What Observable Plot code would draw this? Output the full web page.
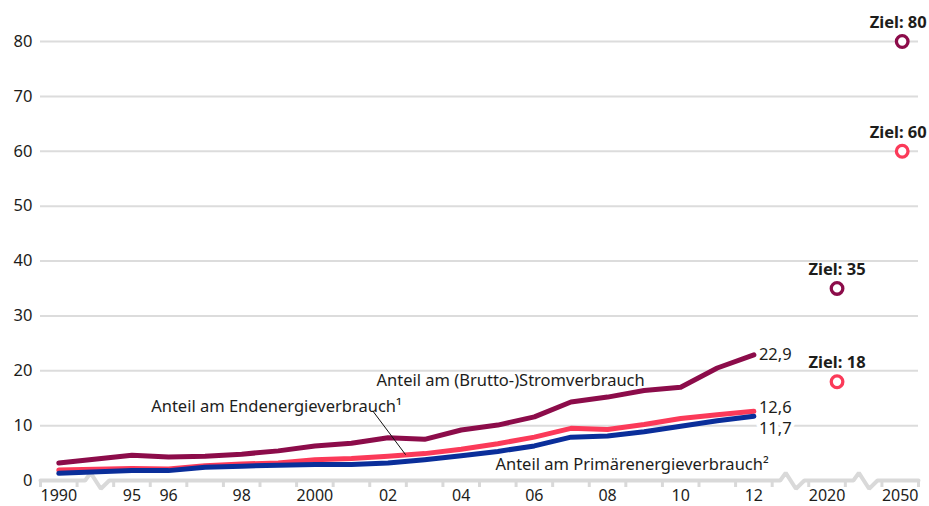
<!DOCTYPE html>
<html><head><meta charset="utf-8">
<script src="https://cdn.jsdelivr.net/npm/d3@7"></script>
<script src="https://cdn.jsdelivr.net/npm/@observablehq/plot@0.6"></script>
<style>
body{margin:0;background:#fff;}
#chart svg{display:block;overflow:visible;}
</style>
</head><body><div id="chart"></div>
<script>
// x slots (bands) in order, "" marks an axis break
const slots = ["1990","","1995","1996","1997","1998","1999","2000","2001","2002","2003","2004","2005","2006","2007","2008","2009","2010","2011","2012","","2020","","2050"];
const tickLabels = ["1990","","95","96","","98","","2000","","02","","04","","06","","08","","10","","12","","2020","","2050"];

const years = [1990,1995,1996,1997,1998,1999,2000,2001,2002,2003,2004,2005,2006,2007,2008,2009,2010,2011,2012];
const strom      = [3.2,4.6,4.3,4.4,4.8,5.4,6.3,6.8,7.8,7.5,9.2,10.1,11.6,14.3,15.2,16.4,17.0,20.5,22.9];
const endenergie = [1.9,2.2,2.1,2.7,3.0,3.2,3.8,4.0,4.4,4.9,5.7,6.7,7.9,9.5,9.3,10.2,11.3,12.0,12.6];
const primaer    = [1.3,1.8,1.8,2.4,2.6,2.8,2.9,2.9,3.2,3.8,4.5,5.3,6.3,7.9,8.1,8.9,9.9,10.9,11.7];

const targetYears  = ["2020","2050","2020","2050"];
const targetValues = [35,80,18,60];
const targetSeries = ["strom","strom","endenergie","endenergie"];

const colors = {strom:"#8c0c4a", endenergie:"#fb3a59", primaer:"#0a2e9a"};

const pos = (y) => slots.indexOf(String(y)) + 0.5;
const fmt = (v) => d3.format(".1f")(v).replace(".", ",");

const series = {strom, endenergie, primaer};
const lineData = k => years.map((yr, i) => ({x: pos(yr), y: series[k][i]}));

const targets = targetYears.map((yr, i) => ({x: pos(yr), y: targetValues[i], s: targetSeries[i], yr, label: "Ziel: " + targetValues[i]}));

// baseline with break zigzags
const base = [];
slots.forEach((s, i) => {
  if (s === "") {
    base.push({x:i,y:0},{x:i+0.22,y:0},{x:i+0.37,y:1.4},{x:i+0.65,y:-1.5},{x:i+0.88,y:0},{x:i+1,y:0});
  } else {
    base.push({x:i,y:0},{x:i+1,y:0});
  }
});

const last = years.length - 1;
const endX = pos(2012);

const FONT = "'Noto Sans', sans-serif";
const TXT = "#1d1d1b";
const FS = 16.5;

const chart = Plot.plot({
  width: 929, height: 506,
  marginLeft: 40, marginRight: 11, marginTop: 41, marginBottom: 26,
  style: {fontFamily: FONT, fontSize: FS + "px", color: TXT, background: "#fff"},
  x: {type: "linear", domain: [0, slots.length], axis: null},
  y: {domain: [0, 80], axis: null},
  marks: [
    Plot.gridY(d3.range(10, 81, 10), {stroke: "#dcdcdc", strokeOpacity: 1, strokeWidth: 2}),
    Plot.axisY(d3.range(0, 81, 10), {tickSize: 0, tickPadding: 8, fontSize: FS, fill: TXT}),
    Plot.axisX(d3.range(0, slots.length + 1), {tickSize: 7, tickFormat: () => "", stroke: "#d9d9d9", strokeWidth: 3}),
    Plot.axisX(d3.range(slots.length).map(i => i + 0.5), {tickSize: 0, tickPadding: 9, fontSize: 16, fill: TXT, tickFormat: v => tickLabels[Math.floor(v)]}),
    Plot.line(base, {x: "x", y: "y", stroke: "#d9d9d9", strokeWidth: 4, strokeLinejoin: "miter"}),
    Plot.line(lineData("strom"), {x: "x", y: "y", stroke: colors.strom, strokeWidth: 5, strokeLinejoin: "round"}),
    Plot.line(lineData("endenergie"), {x: "x", y: "y", stroke: colors.endenergie, strokeWidth: 5, strokeLinejoin: "round"}),
    Plot.line(lineData("primaer"), {x: "x", y: "y", stroke: colors.primaer, strokeWidth: 5, strokeLinejoin: "round"}),
    Plot.text([strom[last]], {x: endX, y: d => d, text: d => fmt(d), textAnchor: "start", dx: 5, dy: 0, fontSize: FS, fill: TXT, stroke: "white", strokeWidth: 7}),
    Plot.text([endenergie[last]], {x: endX, y: d => d, text: d => fmt(d), textAnchor: "start", dx: 5, dy: -4, fontSize: FS, fill: TXT, stroke: "white", strokeWidth: 7}),
    Plot.text([primaer[last]], {x: endX, y: d => d, text: d => fmt(d), textAnchor: "start", dx: 5, dy: 12, fontSize: FS, fill: TXT, stroke: "white", strokeWidth: 8}),
    Plot.link([{x1: 9.08, y1: 12.7, x2: 9.98, y2: 4.7}], {x1: "x1", y1: "y1", x2: "x2", y2: "y2", stroke: "#111", strokeWidth: 1}),
    Plot.text(["Anteil am (Brutto-)Stromverbrauch"], {x: pos(2005) + 0.35, y: 18.2, fontSize: FS, fill: TXT}),
    Plot.text(["Anteil am Endenergieverbrauch¹"], {x: 6.45, y: 13.4, fontSize: FS, fill: TXT}),
    Plot.text(["Anteil am Primärenergieverbrauch²"], {x: 16.17, y: 2.8, fontSize: FS, fill: TXT}),
    Plot.dot(targets.filter(d => d.yr === "2020"), {x: "x", y: "y", r: 5.8, fill: "white", stroke: d => colors[d.s], strokeWidth: 3.3, dx: 10}),
    Plot.dot(targets.filter(d => d.yr === "2050"), {x: "x", y: "y", r: 5.8, fill: "white", stroke: d => colors[d.s], strokeWidth: 3.3, dx: 2}),
    Plot.text(targets.filter(d => d.yr === "2020"), {x: "x", y: "y", text: "label", dy: -19, dx: 10, fontSize: FS, fontWeight: "bold", fill: TXT}),
    Plot.text(targets.filter(d => d.yr === "2050"), {x: "x", y: "y", text: "label", dy: -19, dx: -2, fontSize: FS, fontWeight: "bold", fill: TXT})
  ]
});
document.getElementById("chart").appendChild(chart);
</script>
</body></html>
